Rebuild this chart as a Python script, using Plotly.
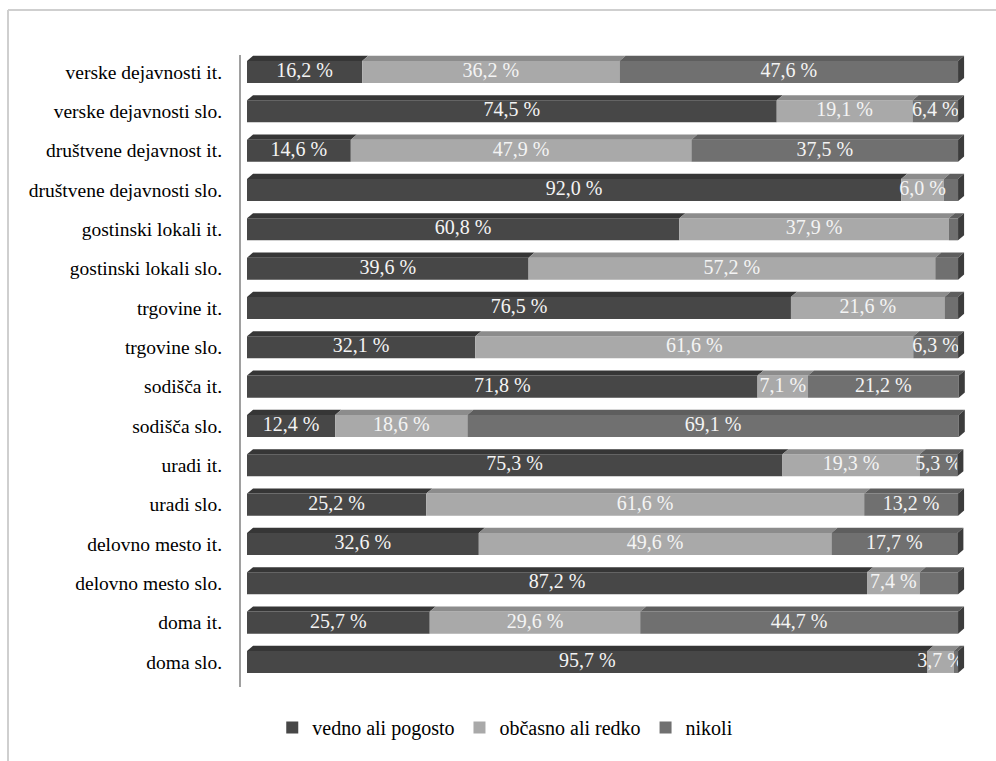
import plotly.graph_objects as go

categories = [
    "verske dejavnosti it.",
    "verske dejavnosti slo.",
    "društvene dejavnost it.",
    "društvene dejavnosti slo.",
    "gostinski lokali it.",
    "gostinski lokali slo.",
    "trgovine it.",
    "trgovine slo.",
    "sodišča it.",
    "sodišča slo.",
    "uradi it.",
    "uradi slo.",
    "delovno mesto it.",
    "delovno mesto slo.",
    "doma it.",
    "doma slo.",
]
vedno = [16.2, 74.5, 14.6, 92.0, 60.8, 39.6, 76.5, 32.1, 71.8, 12.4, 75.3, 25.2, 32.6, 87.2, 25.7, 95.7]
obcasno = [36.2, 19.1, 47.9, 6.0, 37.9, 57.2, 21.6, 61.6, 7.1, 18.6, 19.3, 61.6, 49.6, 7.4, 29.6, 3.7]
nikoli = [47.6, 6.4, 37.5, 2.0, 1.3, 3.2, 1.9, 6.3, 21.2, 69.1, 5.3, 13.2, 17.7, 5.4, 44.7, 0.6]
series_names = ["vedno ali pogosto", "občasno ali redko", "nikoli"]
# which data labels are printed in the original
show_vedno = [True] * 16
show_obcasno = [True] * 16
show_nikoli = [True, True, True, False, False, False, False, True,
               True, True, True, True, True, False, True, False]

front_colors = ["#474747", "#a9a9a9", "#707070"]
top_colors = ["#363636", "#8c8c8c", "#5e5e5e"]
side_color = "#3c3c3c"

FONT = "Liberation Serif"
BAR_W = 0.56
DX = 0.85   # depth offset in % units
DY = 0.13   # depth offset in category units

series = [vedno, obcasno, nikoli]
shows = [show_vedno, show_obcasno, show_nikoli]
ypos = list(range(len(categories)))

fig = go.Figure()
shapes = []

for s, (vals, name) in enumerate(zip(series, series_names)):
    bases = [sum(series[k][i] for k in range(s)) for i in ypos]
    fig.add_trace(go.Bar(
        x=vals, y=ypos, base=bases, orientation="h", width=BAR_W,
        name=name, marker=dict(color=front_colors[s], line=dict(width=0)),
        hoverinfo="skip",
    ))
    # top faces
    for i in ypos:
        x0 = bases[i]
        x1 = bases[i] + vals[i]
        yt = i - BAR_W / 2
        shapes.append(dict(
            type="path", xref="x", yref="y", layer="above",
            path=f"M {x0},{yt} L {x1},{yt} L {x1 + DX},{yt - DY} L {x0 + DX},{yt - DY} Z",
            fillcolor=top_colors[s], line=dict(width=0),
        ))

# right side faces
for i in ypos:
    xe = vedno[i] + obcasno[i] + nikoli[i]
    yt = i - BAR_W / 2
    yb = i + BAR_W / 2
    shapes.append(dict(
        type="path", xref="x", yref="y", layer="above",
        path=f"M {xe},{yt} L {xe + DX},{yt - DY} L {xe + DX},{yb - DY} L {xe},{yb} Z",
        fillcolor=side_color, line=dict(width=0),
    ))

# data labels
lx, ly, lt = [], [], []
for s, vals in enumerate(series):
    for i in ypos:
        if not shows[s][i]:
            continue
        base = sum(series[k][i] for k in range(s))
        lx.append(base + vals[i] / 2)
        ly.append(i)
        lt.append(f"{vals[i]:.1f}".replace(".", ",") + " %")
fig.add_trace(go.Scatter(
    x=lx, y=ly, text=lt, mode="text", showlegend=False, hoverinfo="skip",
    textfont=dict(family=FONT, size=20, color="#f4f4f4"),
    textposition="middle center",
))

# outer frame (top & left edges visible)
shapes.append(dict(type="line", xref="paper", yref="paper",
                   x0=-0.3205, x1=1.2, y0=1.0712, y1=1.0712,
                   line=dict(color="#cfcfcf", width=2), layer="below"))
shapes.append(dict(type="line", xref="paper", yref="paper",
                   x0=-0.3205, x1=-0.3205, y0=-0.2, y1=1.0712,
                   line=dict(color="#cfcfcf", width=2), layer="below"))

fig.update_layout(
    width=996, height=761,
    margin=dict(l=241, r=28, t=55, b=74),
    paper_bgcolor="white", plot_bgcolor="white",
    barmode="overlay",
    shapes=shapes,
    font=dict(family=FONT, size=19.5, color="#000000"),
    xaxis=dict(range=[-0.844, 101.4], showgrid=False, zeroline=False,
               showticklabels=False, showline=False, fixedrange=True),
    yaxis=dict(range=[15.637, -0.432], tickvals=ypos, ticktext=categories,
               showgrid=False, zeroline=False, showline=True,
               linecolor="#a0a0a0", linewidth=2, ticks="",
               ticklabelstandoff=13,
               tickfont=dict(family=FONT, size=19.5, color="#000000")),
    legend=dict(orientation="h", x=0.043, y=-0.064, xanchor="left", yanchor="middle",
                font=dict(family=FONT, size=20, color="#000000"),
                itemwidth=30, tracegroupgap=0),
    showlegend=True,
)

fig.write_html("out.html")
